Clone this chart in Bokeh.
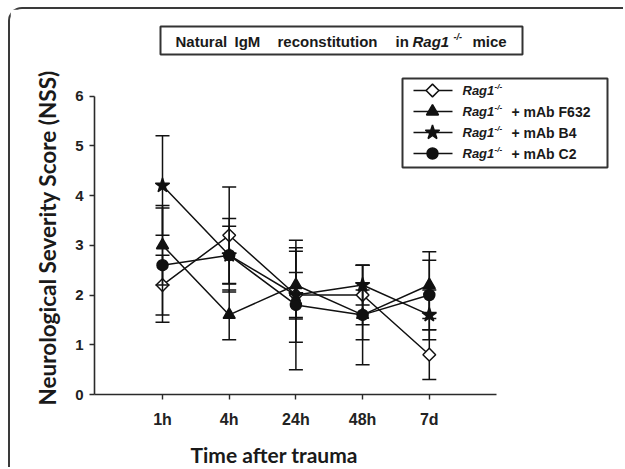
import numpy as np
from bokeh.plotting import figure
from bokeh.models import Range1d, FixedTicker, Label, BoxAnnotation, Title, LinearAxis
from bokeh.embed import file_html
from bokeh.resources import INLINE

# ---------------- data ----------------
categories = ["1h", "4h", "24h", "48h", "7d"]
rag1 = [2.2, 3.2, 2.0, 2.0, 0.8]
rag1_err = [0.6, 0.97, 0.45, 0.6, 0.5]
f632 = [3.0, 1.6, 2.2, 1.6, 2.2]
f632_err = [0.8, 0.5, 0.68, 0.5, 0.67]
b4 = [4.2, 2.8, 2.0, 2.2, 1.6]
b4_err = [1.0, 0.74, 0.95, 0.4, 0.5]
c2 = [2.6, 2.8, 1.8, 1.6, 2.0]
c2_err = [1.15, 0.58, 1.3, 1.0, 0.7]
legend_suffix = ["", "+ mAb F632", "+ mAb B4", "+ mAb C2"]
y_ticks = [0, 1, 2, 3, 4, 5, 6]
title_words = ["Natural", "IgM", "reconstitution", "in", "Rag1", "-/-", "mice"]
x_label = "Time after trauma"
y_label = "Neurological Severity Score (NSS)"

# ---------------- layout (page pixels) ----------------
OX, OY = 10, 9          # canvas origin on the page (after css margin + border)
W, H = 615, 460
FL, FR, FT, FB = 94, 613, 13, 394
SX = 66.7
SY = 49.75
X0 = 1 - (162 - FL) / SX


def px2x(px):
    return X0 + (px - FL) / SX


def py2y(py):
    return (FB - py) / SY


p = figure(width=W, height=H,
           x_range=Range1d(X0, X0 + (FR - FL) / SX),
           y_range=Range1d(0, (FB - FT) / SY),
           output_backend="svg", toolbar_location=None,
           min_border_left=FL - OX, min_border_right=OX + W - FR,
           min_border_top=FT - OY, min_border_bottom=OY + H - FB)
p.styles = {"margin-left": "8px", "margin-top": "7px",
            "border-top": "2px solid #3a3a3a", "border-left": "2px solid #3a3a3a",
            "border-top-left-radius": "14px"}
p.grid.visible = False
p.outline_line_color = None
p.background_fill_color = "white"
p.border_fill_color = "white"

AX = "#2a2a2a"
for ax in (p.xaxis[0], p.yaxis[0]):
    ax.axis_line_color = AX
    ax.axis_line_width = 1.6
    ax.major_tick_line_color = AX
    ax.major_tick_line_width = 1.4
    ax.major_tick_out = 5
    ax.major_tick_in = 0
    ax.minor_tick_line_color = None
    ax.major_label_text_font = "Liberation Sans"
    ax.major_label_text_font_style = "bold"
    ax.major_label_text_color = "#222222"

xs = list(range(1, len(categories) + 1))
p.xaxis.ticker = FixedTicker(ticks=xs)
p.xaxis.major_label_overrides = {x: c for x, c in zip(xs, categories)}
p.xaxis.bounds = (X0, 6.0)
p.xaxis.major_label_text_font_size = "16px"
p.xaxis.major_label_standoff = 11
p.yaxis.ticker = FixedTicker(ticks=y_ticks)
p.yaxis.bounds = (0, 6)
p.yaxis.major_label_text_font_size = "15px"
p.yaxis.major_label_standoff = 6

K = "#111111"
specs = [
    (rag1, rag1_err, dict(marker="square", angle=np.pi / 4, size=9, fill_color="white")),
    (f632, f632_err, dict(marker="triangle", size=12, fill_color=K)),
    (b4, b4_err, dict(marker="star", size=15, fill_color=K)),
    (c2, c2_err, dict(marker="circle", size=11, fill_color=K)),
]

for vals, errs, mk in specs:
    lo = [v - e for v, e in zip(vals, errs)]
    hi = [v + e for v, e in zip(vals, errs)]
    p.line(xs, vals, line_color=K, line_width=1.5)
    p.segment(x0=xs, y0=lo, x1=xs, y1=hi, line_color=K, line_width=1.5)
    p.scatter(xs + xs, lo + hi, marker="dash", size=14, line_color=K, line_width=1.5)
    p.scatter(xs, vals, line_color=K, line_width=1.5, **mk)

# ---------------- title box ----------------
p.add_layout(BoxAnnotation(left=px2x(160), right=px2x(522), top=py2y(26), bottom=py2y(54),
                           fill_color="white", fill_alpha=1, line_color="#333333",
                           line_alpha=1, line_width=2, level="underlay"))
title_x = [175, 234, 277, 395, 412, 453, 472]
for word, tx in zip(title_words, title_x):
    style = "bold italic" if word in ("Rag1", "-/-") else "bold"
    size = "9px" if word == "-/-" else "15px"
    mid = 36.5 if word == "-/-" else 41
    p.add_layout(Label(x=px2x(tx), y=py2y(mid), text=word, text_font="Liberation Sans",
                       text_font_style=style, text_font_size=size, text_color="#1a1a1a",
                       text_align="left", text_baseline="middle"))

# ---------------- legend ----------------
p.add_layout(BoxAnnotation(left=px2x(402), right=px2x(607), top=py2y(78), bottom=py2y(167),
                           fill_color="white", fill_alpha=1, line_color="#333333",
                           line_alpha=1, line_width=2, level="underlay"))
rows = [90, 111, 132, 153]
for (vals, errs, mk), ry, suf in zip(specs, rows, legend_suffix):
    p.line([px2x(413), px2x(452)], [py2y(ry), py2y(ry)], line_color=K, line_width=1.5)
    p.scatter([px2x(432)], [py2y(ry)], line_color=K, line_width=1.5, **mk)
    p.add_layout(Label(x=px2x(462), y=py2y(ry), text="Rag1", text_font="Liberation Sans",
                       text_font_style="bold italic", text_font_size="13px",
                       text_color="#1a1a1a", text_baseline="middle"))
    p.add_layout(Label(x=px2x(494), y=py2y(ry - 4), text="-/-", text_font="Liberation Sans",
                       text_font_style="bold italic", text_font_size="8px",
                       text_color="#1a1a1a", text_baseline="middle"))
    if suf:
        p.add_layout(Label(x=px2x(511), y=py2y(ry), text=suf, text_font="Liberation Sans",
                           text_font_style="bold", text_font_size="14px",
                           text_color="#1a1a1a", text_baseline="middle"))

# ---------------- axis titles ----------------
# invisible axis used only as vertical spacer between tick labels and the x title
spacer = LinearAxis(ticker=FixedTicker(ticks=[3]), major_label_overrides={3: ""},
                    axis_line_color=None, major_tick_line_color=None,
                    minor_tick_line_color=None, major_tick_out=9, major_tick_in=0,
                    major_label_standoff=0, major_label_text_font_size="1px")
p.add_layout(spacer, "below")
p.add_layout(Title(text=x_label, align="left", offset=96, vertical_align="bottom",
                   text_font="Lato", text_font_style="bold", text_font_size="21px",
                   text_color="#1a1a1a", standoff=0), "below")
p.add_layout(Title(text=y_label, align="left", offset=-11, text_font="Lato",
                   text_font_style="bold", text_font_size="22.5px", text_color="#1a1a1a",
                   standoff=24), "left")

open("out.html", "w").write(file_html(p, INLINE))
